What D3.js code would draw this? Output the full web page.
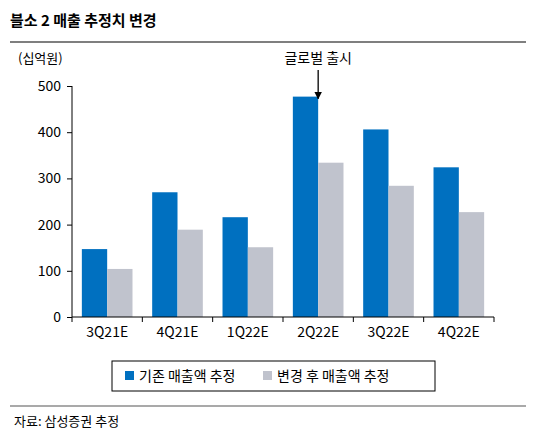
<!DOCTYPE html><html><head><meta charset="utf-8"><script src="https://cdn.jsdelivr.net/npm/d3@7"></script>
<style>body{margin:0;background:#fff}text{font-family:"Noto Sans CJK KR","Noto Sans",sans-serif}</style></head><body>
<svg id="c" width="541" height="442"></svg>
<script>
const categories=["3Q21E","4Q21E","1Q22E","2Q22E","3Q22E","4Q22E"];
const before=[147,270,216,477,406,324];
const after=[104,189,151,334,284,227];
const yTicks=[0,100,200,300,400,500];
const seriesNames=["기존 매출액 추정","변경 후 매출액 추정"];
const colors=["#0070C0","#C0C3CD"];
const svg=d3.select("#c");
svg.append("text").attr("x",10).attr("y",26).attr("font-size",15).attr("font-weight","bold").text("블소 2 매출 추정치 변경");
svg.append("line").attr("x1",10).attr("x2",526).attr("y1",42).attr("y2",42).attr("stroke","#555").attr("stroke-width",1.5);
svg.append("text").attr("x",18).attr("y",63).attr("font-size",13).text("(십억원)");
const x=d3.scaleBand().domain(categories).range([72,494]).paddingInner(0.28).paddingOuter(0.14);
const y=d3.scaleLinear().domain([0,500]).range([317,86]);
const g=svg.append("g");
const bw=x.bandwidth()/2;
categories.forEach((c,i)=>{
 g.append("rect").attr("x",x(c)).attr("y",y(before[i])).attr("width",bw).attr("height",y(0)-y(before[i])).attr("fill",colors[0]);
 g.append("rect").attr("x",x(c)+bw).attr("y",y(after[i])).attr("width",bw).attr("height",y(0)-y(after[i])).attr("fill",colors[1]);
});
const ya=svg.append("g").attr("transform","translate(72,0)").call(d3.axisLeft(y).tickValues(yTicks).tickSize(5).tickPadding(6));
ya.selectAll("text").attr("font-size",14).attr("fill","#000");
ya.select(".domain").attr("d","M0,86V317");
const xa=svg.append("g").attr("transform","translate(0,317)").call(d3.axisBottom(x).tickSize(0).tickPadding(10));
xa.selectAll("text").attr("font-size",14).attr("fill","#000");
xa.select(".domain").attr("d","M72,0H494");
// tick marks between bands
const bounds=categories.map(c=>x(c)-x.step()*x.paddingInner()/2).concat([494]);
bounds.forEach(b=>svg.append("line").attr("x1",b).attr("x2",b).attr("y1",317).attr("y2",322).attr("stroke","#000"));
// annotation
const ax=x("2Q22E")+bw;
svg.append("text").attr("x",ax).attr("y",63).attr("text-anchor","middle").attr("font-size",14).text("글로벌 출시");
svg.append("defs").append("marker").attr("id","ar").attr("viewBox","0 0 10 10").attr("refX",9).attr("refY",5).attr("markerWidth",6).attr("markerHeight",6).attr("orient","auto").append("path").attr("d","M0,0L10,5L0,10z").attr("fill","#000");
svg.append("line").attr("x1",ax).attr("x2",ax).attr("y1",70).attr("y2",y(before[3])+2).attr("stroke","#000").attr("stroke-width",1.3).attr("marker-end","url(#ar)");
// legend
svg.append("rect").attr("x",112).attr("y",361).attr("width",323).attr("height",30).attr("fill","none").attr("stroke","#000");
[[125,0],[263,1]].forEach(([lx,i])=>{
 svg.append("rect").attr("x",lx).attr("y",371).attr("width",9).attr("height",9).attr("fill",colors[i]);
 svg.append("text").attr("x",lx+14).attr("y",381).attr("font-size",14).text(seriesNames[i]);
});
svg.append("line").attr("x1",10).attr("x2",526).attr("y1",406).attr("y2",406).attr("stroke","#555").attr("stroke-width",1.2);
svg.append("text").attr("x",14).attr("y",426).attr("font-size",13).text("자료: 삼성증권 추정");
</script></body></html>
